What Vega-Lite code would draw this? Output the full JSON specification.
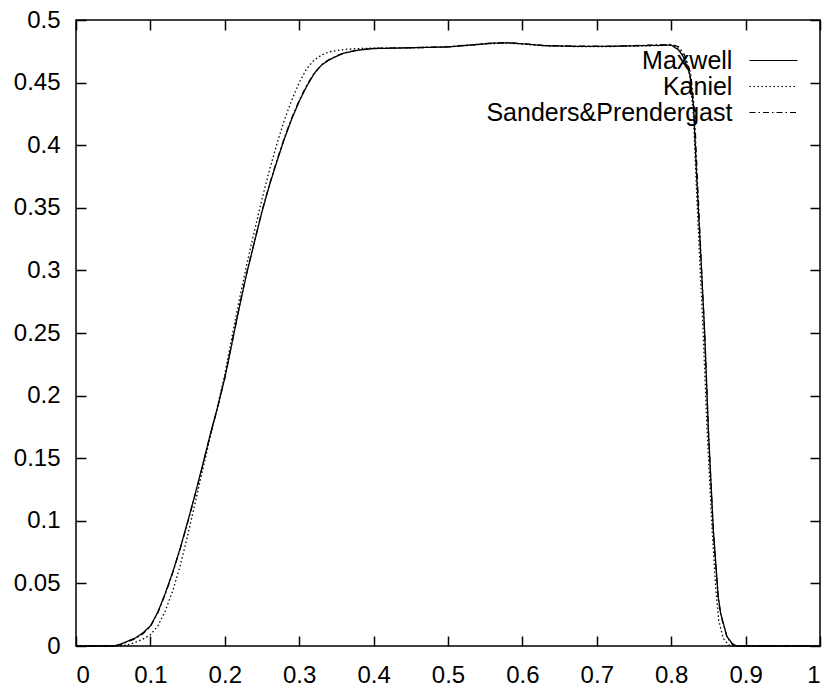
{
  "$schema": "https://vega.github.io/schema/vega-lite/v6.json",
  "width": 744,
  "height": 626,
  "autosize": {"type": "none"},
  "padding": {"left": 76, "top": 20, "right": 10, "bottom": 45},
  "background": "white",
  "config": {
    "view": {"stroke": "black", "strokeWidth": 1.5},
    "font": "Liberation Sans",
    "axis": {
      "grid": false,
      "labelFont": "Liberation Sans",
      "labelFontSize": 24,
      "labelColor": "black",
      "title": null
    }
  },
  "datasets": {
    "curves": [
      {"s": "Maxwell", "x": 0, "y": 0},
      {"s": "Maxwell", "x": 0.05, "y": 0},
      {"s": "Maxwell", "x": 0.06, "y": 0.0015},
      {"s": "Maxwell", "x": 0.07, "y": 0.004},
      {"s": "Maxwell", "x": 0.08, "y": 0.0065},
      {"s": "Maxwell", "x": 0.09, "y": 0.0105},
      {"s": "Maxwell", "x": 0.1, "y": 0.016},
      {"s": "Maxwell", "x": 0.11, "y": 0.027},
      {"s": "Maxwell", "x": 0.12, "y": 0.042},
      {"s": "Maxwell", "x": 0.13, "y": 0.059},
      {"s": "Maxwell", "x": 0.14, "y": 0.078},
      {"s": "Maxwell", "x": 0.15, "y": 0.099},
      {"s": "Maxwell", "x": 0.16, "y": 0.121},
      {"s": "Maxwell", "x": 0.17, "y": 0.144},
      {"s": "Maxwell", "x": 0.18, "y": 0.168},
      {"s": "Maxwell", "x": 0.19, "y": 0.19},
      {"s": "Maxwell", "x": 0.2, "y": 0.214},
      {"s": "Maxwell", "x": 0.21, "y": 0.243},
      {"s": "Maxwell", "x": 0.22, "y": 0.272},
      {"s": "Maxwell", "x": 0.23, "y": 0.299},
      {"s": "Maxwell", "x": 0.24, "y": 0.323},
      {"s": "Maxwell", "x": 0.25, "y": 0.347},
      {"s": "Maxwell", "x": 0.26, "y": 0.368},
      {"s": "Maxwell", "x": 0.27, "y": 0.387},
      {"s": "Maxwell", "x": 0.28, "y": 0.405},
      {"s": "Maxwell", "x": 0.29, "y": 0.421},
      {"s": "Maxwell", "x": 0.3, "y": 0.435},
      {"s": "Maxwell", "x": 0.31, "y": 0.447},
      {"s": "Maxwell", "x": 0.32, "y": 0.457},
      {"s": "Maxwell", "x": 0.33, "y": 0.464},
      {"s": "Maxwell", "x": 0.34, "y": 0.468},
      {"s": "Maxwell", "x": 0.35, "y": 0.471},
      {"s": "Maxwell", "x": 0.36, "y": 0.4735},
      {"s": "Maxwell", "x": 0.38, "y": 0.476},
      {"s": "Maxwell", "x": 0.4, "y": 0.4772},
      {"s": "Maxwell", "x": 0.45, "y": 0.4778},
      {"s": "Maxwell", "x": 0.5, "y": 0.4785},
      {"s": "Maxwell", "x": 0.53, "y": 0.48},
      {"s": "Maxwell", "x": 0.56, "y": 0.4815},
      {"s": "Maxwell", "x": 0.58, "y": 0.4818},
      {"s": "Maxwell", "x": 0.6, "y": 0.481},
      {"s": "Maxwell", "x": 0.63, "y": 0.4795},
      {"s": "Maxwell", "x": 0.67, "y": 0.479},
      {"s": "Maxwell", "x": 0.72, "y": 0.479},
      {"s": "Maxwell", "x": 0.76, "y": 0.4795},
      {"s": "Maxwell", "x": 0.8, "y": 0.48},
      {"s": "Maxwell", "x": 0.81, "y": 0.476},
      {"s": "Maxwell", "x": 0.816, "y": 0.471},
      {"s": "Maxwell", "x": 0.825, "y": 0.457},
      {"s": "Maxwell", "x": 0.83, "y": 0.431},
      {"s": "Maxwell", "x": 0.834, "y": 0.378},
      {"s": "Maxwell", "x": 0.841, "y": 0.298},
      {"s": "Maxwell", "x": 0.845, "y": 0.25},
      {"s": "Maxwell", "x": 0.85, "y": 0.1725},
      {"s": "Maxwell", "x": 0.8566, "y": 0.093},
      {"s": "Maxwell", "x": 0.8633, "y": 0.039},
      {"s": "Maxwell", "x": 0.8665, "y": 0.026},
      {"s": "Maxwell", "x": 0.875, "y": 0.0075},
      {"s": "Maxwell", "x": 0.882, "y": 0.002},
      {"s": "Maxwell", "x": 0.888, "y": 0},
      {"s": "Maxwell", "x": 1, "y": 0},

      {"s": "Kaniel", "x": 0, "y": 0},
      {"s": "Kaniel", "x": 0.06, "y": 0},
      {"s": "Kaniel", "x": 0.07, "y": 0.001},
      {"s": "Kaniel", "x": 0.08, "y": 0.003},
      {"s": "Kaniel", "x": 0.09, "y": 0.0055},
      {"s": "Kaniel", "x": 0.1, "y": 0.009},
      {"s": "Kaniel", "x": 0.11, "y": 0.016},
      {"s": "Kaniel", "x": 0.12, "y": 0.028},
      {"s": "Kaniel", "x": 0.13, "y": 0.044},
      {"s": "Kaniel", "x": 0.14, "y": 0.064},
      {"s": "Kaniel", "x": 0.15, "y": 0.088},
      {"s": "Kaniel", "x": 0.16, "y": 0.114},
      {"s": "Kaniel", "x": 0.17, "y": 0.14},
      {"s": "Kaniel", "x": 0.18, "y": 0.166},
      {"s": "Kaniel", "x": 0.19, "y": 0.191},
      {"s": "Kaniel", "x": 0.2, "y": 0.217},
      {"s": "Kaniel", "x": 0.21, "y": 0.248},
      {"s": "Kaniel", "x": 0.22, "y": 0.278},
      {"s": "Kaniel", "x": 0.23, "y": 0.306},
      {"s": "Kaniel", "x": 0.24, "y": 0.332},
      {"s": "Kaniel", "x": 0.25, "y": 0.357},
      {"s": "Kaniel", "x": 0.26, "y": 0.38},
      {"s": "Kaniel", "x": 0.27, "y": 0.401},
      {"s": "Kaniel", "x": 0.28, "y": 0.42},
      {"s": "Kaniel", "x": 0.29, "y": 0.436},
      {"s": "Kaniel", "x": 0.3, "y": 0.45},
      {"s": "Kaniel", "x": 0.31, "y": 0.461},
      {"s": "Kaniel", "x": 0.32, "y": 0.468},
      {"s": "Kaniel", "x": 0.33, "y": 0.472},
      {"s": "Kaniel", "x": 0.34, "y": 0.4745},
      {"s": "Kaniel", "x": 0.36, "y": 0.4765},
      {"s": "Kaniel", "x": 0.38, "y": 0.4772},
      {"s": "Kaniel", "x": 0.4, "y": 0.4775},
      {"s": "Kaniel", "x": 0.45, "y": 0.4778},
      {"s": "Kaniel", "x": 0.5, "y": 0.4785},
      {"s": "Kaniel", "x": 0.53, "y": 0.4798},
      {"s": "Kaniel", "x": 0.56, "y": 0.4812},
      {"s": "Kaniel", "x": 0.58, "y": 0.4815},
      {"s": "Kaniel", "x": 0.6, "y": 0.4808},
      {"s": "Kaniel", "x": 0.63, "y": 0.4793},
      {"s": "Kaniel", "x": 0.67, "y": 0.4788},
      {"s": "Kaniel", "x": 0.72, "y": 0.4788},
      {"s": "Kaniel", "x": 0.76, "y": 0.4793},
      {"s": "Kaniel", "x": 0.8, "y": 0.4798},
      {"s": "Kaniel", "x": 0.81, "y": 0.477},
      {"s": "Kaniel", "x": 0.82, "y": 0.468},
      {"s": "Kaniel", "x": 0.825, "y": 0.455},
      {"s": "Kaniel", "x": 0.83, "y": 0.423},
      {"s": "Kaniel", "x": 0.834, "y": 0.365},
      {"s": "Kaniel", "x": 0.839, "y": 0.3},
      {"s": "Kaniel", "x": 0.843, "y": 0.25},
      {"s": "Kaniel", "x": 0.848, "y": 0.175},
      {"s": "Kaniel", "x": 0.855, "y": 0.093},
      {"s": "Kaniel", "x": 0.86, "y": 0.045},
      {"s": "Kaniel", "x": 0.864, "y": 0.02},
      {"s": "Kaniel", "x": 0.87, "y": 0.006},
      {"s": "Kaniel", "x": 0.877, "y": 0.001},
      {"s": "Kaniel", "x": 0.881, "y": 0},
      {"s": "Kaniel", "x": 1, "y": 0},

      {"s": "Sanders&Prendergast", "x": 0, "y": 0},
      {"s": "Sanders&Prendergast", "x": 0.052, "y": 0},
      {"s": "Sanders&Prendergast", "x": 0.06, "y": 0.0012},
      {"s": "Sanders&Prendergast", "x": 0.07, "y": 0.0035},
      {"s": "Sanders&Prendergast", "x": 0.08, "y": 0.006},
      {"s": "Sanders&Prendergast", "x": 0.09, "y": 0.0098},
      {"s": "Sanders&Prendergast", "x": 0.1, "y": 0.0155},
      {"s": "Sanders&Prendergast", "x": 0.11, "y": 0.0265},
      {"s": "Sanders&Prendergast", "x": 0.12, "y": 0.0415},
      {"s": "Sanders&Prendergast", "x": 0.13, "y": 0.0585},
      {"s": "Sanders&Prendergast", "x": 0.14, "y": 0.0775},
      {"s": "Sanders&Prendergast", "x": 0.15, "y": 0.0985},
      {"s": "Sanders&Prendergast", "x": 0.16, "y": 0.1205},
      {"s": "Sanders&Prendergast", "x": 0.17, "y": 0.1435},
      {"s": "Sanders&Prendergast", "x": 0.18, "y": 0.1675},
      {"s": "Sanders&Prendergast", "x": 0.19, "y": 0.1898},
      {"s": "Sanders&Prendergast", "x": 0.2, "y": 0.2138},
      {"s": "Sanders&Prendergast", "x": 0.21, "y": 0.2432},
      {"s": "Sanders&Prendergast", "x": 0.22, "y": 0.2722},
      {"s": "Sanders&Prendergast", "x": 0.23, "y": 0.2993},
      {"s": "Sanders&Prendergast", "x": 0.24, "y": 0.3235},
      {"s": "Sanders&Prendergast", "x": 0.25, "y": 0.3475},
      {"s": "Sanders&Prendergast", "x": 0.26, "y": 0.3686},
      {"s": "Sanders&Prendergast", "x": 0.27, "y": 0.3877},
      {"s": "Sanders&Prendergast", "x": 0.28, "y": 0.4057},
      {"s": "Sanders&Prendergast", "x": 0.29, "y": 0.4218},
      {"s": "Sanders&Prendergast", "x": 0.3, "y": 0.4358},
      {"s": "Sanders&Prendergast", "x": 0.31, "y": 0.4477},
      {"s": "Sanders&Prendergast", "x": 0.32, "y": 0.4575},
      {"s": "Sanders&Prendergast", "x": 0.33, "y": 0.4643},
      {"s": "Sanders&Prendergast", "x": 0.34, "y": 0.4683},
      {"s": "Sanders&Prendergast", "x": 0.35, "y": 0.4712},
      {"s": "Sanders&Prendergast", "x": 0.36, "y": 0.4737},
      {"s": "Sanders&Prendergast", "x": 0.38, "y": 0.4762},
      {"s": "Sanders&Prendergast", "x": 0.4, "y": 0.4773},
      {"s": "Sanders&Prendergast", "x": 0.45, "y": 0.4779},
      {"s": "Sanders&Prendergast", "x": 0.5, "y": 0.4786},
      {"s": "Sanders&Prendergast", "x": 0.53, "y": 0.4801},
      {"s": "Sanders&Prendergast", "x": 0.56, "y": 0.4816},
      {"s": "Sanders&Prendergast", "x": 0.58, "y": 0.4819},
      {"s": "Sanders&Prendergast", "x": 0.6, "y": 0.4811},
      {"s": "Sanders&Prendergast", "x": 0.63, "y": 0.4796},
      {"s": "Sanders&Prendergast", "x": 0.67, "y": 0.4791},
      {"s": "Sanders&Prendergast", "x": 0.72, "y": 0.4791},
      {"s": "Sanders&Prendergast", "x": 0.76, "y": 0.4797},
      {"s": "Sanders&Prendergast", "x": 0.8, "y": 0.4805},
      {"s": "Sanders&Prendergast", "x": 0.81, "y": 0.4785},
      {"s": "Sanders&Prendergast", "x": 0.818, "y": 0.472},
      {"s": "Sanders&Prendergast", "x": 0.826, "y": 0.458},
      {"s": "Sanders&Prendergast", "x": 0.831, "y": 0.43},
      {"s": "Sanders&Prendergast", "x": 0.835, "y": 0.376},
      {"s": "Sanders&Prendergast", "x": 0.841, "y": 0.298},
      {"s": "Sanders&Prendergast", "x": 0.845, "y": 0.25},
      {"s": "Sanders&Prendergast", "x": 0.85, "y": 0.172},
      {"s": "Sanders&Prendergast", "x": 0.8566, "y": 0.092},
      {"s": "Sanders&Prendergast", "x": 0.863, "y": 0.039},
      {"s": "Sanders&Prendergast", "x": 0.8665, "y": 0.025},
      {"s": "Sanders&Prendergast", "x": 0.875, "y": 0.007},
      {"s": "Sanders&Prendergast", "x": 0.882, "y": 0.0015},
      {"s": "Sanders&Prendergast", "x": 0.887, "y": 0},
      {"s": "Sanders&Prendergast", "x": 1, "y": 0}
    ]
  },
  "data": {"name": "curves"},
  "layer": [
    {
      "mark": {"type": "line", "color": "black", "strokeWidth": 1.3},
      "encoding": {
        "x": {
          "field": "x", "type": "quantitative",
          "scale": {"domain": [0, 1], "nice": false, "zero": false},
          "axis": {"orient": "bottom", "offset": -10, "domainOpacity": 0, "tickColor": "black", "tickWidth": 1.5, "tickSize": 10, "values": [0, 0.1, 0.2, 0.3, 0.4, 0.5, 0.6, 0.7, 0.8, 0.9, 1], "format": "~g", "labelPadding": 17}
        },
        "y": {
          "field": "y", "type": "quantitative",
          "scale": {"domain": [0, 0.5], "nice": false, "zero": false},
          "axis": {"orient": "left", "offset": -10, "domainOpacity": 0, "tickColor": "black", "tickWidth": 1.5, "tickSize": 10, "values": [0, 0.05, 0.1, 0.15, 0.2, 0.25, 0.3, 0.35, 0.4, 0.45, 0.5], "format": "~g", "labelPadding": 16}
        },
        "strokeDash": {
          "field": "s", "type": "nominal",
          "scale": {
            "domain": ["Maxwell", "Kaniel", "Sanders&Prendergast"],
            "range": [[1, 0], [1.5, 2.5], [6, 3, 1.5, 3]]
          },
          "legend": {
            "title": null,
            "orient": "none",
            "legendX": 685,
            "legendY": 28,
            "symbolType": "M-4,0H4",
            "symbolSize": 144,
            "symbolStrokeColor": "black",
            "symbolStrokeWidth": 1.2,
            "labelAlign": "right",
            "labelOffset": -53.6,
            "labelFont": "Liberation Sans",
            "labelFontSize": 25,
            "labelColor": "black",
            "labelLimit": 400,
            "rowPadding": 0,
            "padding": 0
          }
        }
      }
    },
    {
      "mark": {"type": "line", "opacity": 0},
      "encoding": {
        "x": {
          "field": "x", "type": "quantitative",
          "axis": {"orient": "top", "offset": -10, "domainOpacity": 0, "tickColor": "black", "tickWidth": 1.5, "tickSize": 10, "values": [0, 0.1, 0.2, 0.3, 0.4, 0.5, 0.6, 0.7, 0.8, 0.9, 1], "labels": false}
        },
        "y": {
          "field": "y", "type": "quantitative",
          "axis": {"orient": "right", "offset": -10, "domainOpacity": 0, "tickColor": "black", "tickWidth": 1.5, "tickSize": 10, "values": [0, 0.05, 0.1, 0.15, 0.2, 0.25, 0.3, 0.35, 0.4, 0.45, 0.5], "labels": false}
        }
      }
    }
  ],
  "resolve": {"axis": {"x": "independent", "y": "independent"}}
}
